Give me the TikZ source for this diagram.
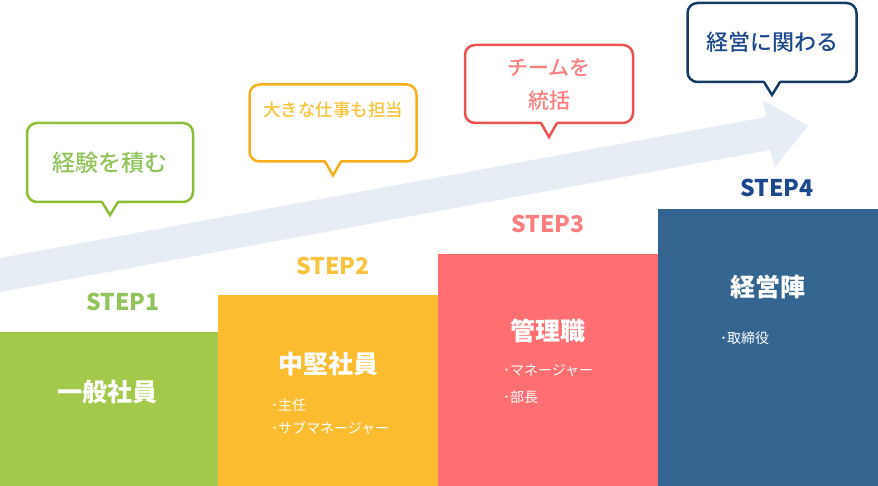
\documentclass[tikz,border=0pt]{standalone}
\usepackage{fontspec}
\setmainfont{Noto Sans CJK JP}
\newfontfamily\mediumfont{Noto Sans CJK JP Medium}
\usepackage{xcolor}

\definecolor{greenBlock}{RGB}{163,201,74}
\definecolor{greenText}{RGB}{145,196,90}
\definecolor{greenLine}{RGB}{140,190,55}
\definecolor{orangeBlock}{RGB}{251,188,47}
\definecolor{orangeText}{RGB}{248,196,62}
\definecolor{orangeLine}{RGB}{246,176,30}
\definecolor{coralBlock}{RGB}{255,110,112}
\definecolor{coralText}{RGB}{250,128,128}
\definecolor{coralLine}{RGB}{236,82,82}
\definecolor{blueBlock}{RGB}{52,101,145}
\definecolor{blueText}{RGB}{28,72,140}
\definecolor{blueLine}{RGB}{20,60,100}
\definecolor{arrowFill}{RGB}{230,237,244}

\tikzset{
  stepblock/.style={rectangle, inner sep=0pt, outer sep=0pt, anchor=north west},
  steplabel/.style={font=\fontsize{23}{26}\selectfont\bfseries},
  steptitle/.style={text=white, font=\fontsize{25}{28}\selectfont\bfseries},
  stepitem/.style={text=white, anchor=west, inner sep=0pt, font=\fontsize{14}{16}\selectfont},
  bubble/.style={rectangle, rounded corners=10pt, line width=2.5pt, fill=white,
    inner sep=0pt, outer sep=0pt, align=center}
}

% pointer under a bubble: node, colour, depth
\newcommand{\bubbletip}[3]{%
  \fill[white] ([xshift=-8pt,yshift=2pt]#1.south) -- ([yshift=-#3]#1.south)
    -- ([xshift=8pt,yshift=2pt]#1.south) -- cycle;
  \draw[#2, line width=2.5pt, line join=miter] ([xshift=-8pt]#1.south)
    -- ([yshift=-#3]#1.south) -- ([xshift=8pt]#1.south);
}

\begin{document}
\begin{tikzpicture}[x=1pt, y=-1pt]
  \useasboundingbox (0,0) rectangle (878,486);

  % arrow in the back
  \fill[arrowFill] (0,258) -- (766,117) -- (763,100) -- (808,126)
    -- (775,167) -- (770,150) -- (0,292) -- cycle;

  % blocks
  \node[stepblock, fill=greenBlock, minimum width=218, minimum height=154] (blk1) at (0,332) {};
  \node[stepblock, fill=orangeBlock, minimum width=220, minimum height=191] (blk2) at (218,295) {};
  \node[stepblock, fill=coralBlock, minimum width=220, minimum height=232] (blk3) at (438,254) {};
  \node[stepblock, fill=blueBlock, minimum width=220, minimum height=277] (blk4) at (658,209) {};

  \node[steplabel, text=greenText] (step1) at (123,302) {STEP1};
  \node[steplabel, text=orangeText] (step2) at (333,266) {STEP2};
  \node[steplabel, text=coralText] (step3) at (548,224) {STEP3};
  \node[steplabel, text=blueText] (step4) at (777,188) {STEP4};

  \node[steptitle] (title1) at (107,392) {一般社員};
  \node[steptitle] (title2) at (328,364) {中堅社員};
  \node[steptitle] (title3) at (548,331) {管理職};
  \node[steptitle] (title4) at (768,287) {経営陣};

  \node[stepitem] (item21) at (271,405) {･主任};
  \node[stepitem] (item22) at (271,428) {･サブマネージャー};
  \node[stepitem] (item31) at (503,371) {･マネージャー};
  \node[stepitem] (item32) at (503,397) {･部長};
  \node[stepitem] (item41) at (720,338) {･取締役};

  % speech bubbles
  \node[bubble, draw=greenLine, text=greenText, minimum width=166, minimum height=79,
    font=\fontsize{23}{26}\mediumfont] (say1) at (110,162.5) {経験を積む};
  \bubbletip{say1}{greenLine}{13pt}
  \node[bubble, draw=orangeLine, text=orangeText, minimum width=167, minimum height=77,
    font=\fontsize{17.5}{20}\mediumfont] (say2) at (333,123) {大きな仕事も担当\\[8pt]};
  \bubbletip{say2}{orangeLine}{14pt}
  \node[bubble, draw=coralLine, text=coralText, minimum width=168, minimum height=78,
    font=\fontsize{21}{33}\mediumfont] (say3) at (549,84) {チームを\\統括};
  \bubbletip{say3}{coralLine}{14pt}
  \node[bubble, draw=blueLine, text=blueText, minimum width=169, minimum height=79,
    font=\fontsize{22}{26}\mediumfont] (say4) at (772,42.5) {経営に関わる};
  \bubbletip{say4}{blueLine}{13pt}
\end{tikzpicture}
\end{document}
